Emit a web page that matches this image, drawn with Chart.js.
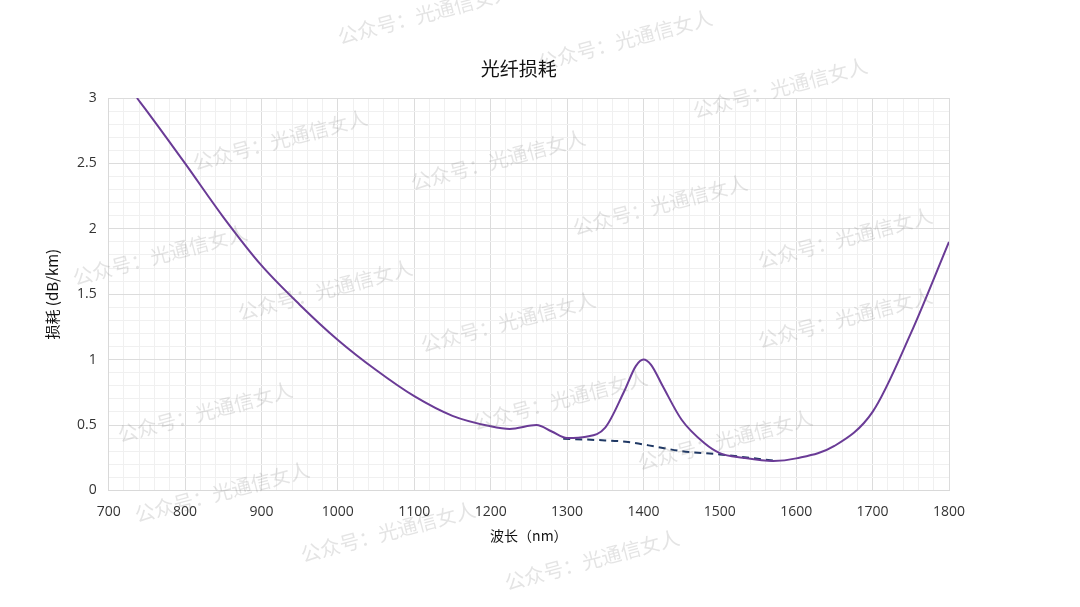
<!DOCTYPE html>
<html>
<head>
<meta charset="utf-8">
<script src="https://cdn.jsdelivr.net/npm/chart.js@4/dist/chart.umd.min.js"></script>
<style>
  html, body { margin: 0; padding: 0; background: #fff; }
  #wrap { width: 1080px; height: 607px; }
</style>
</head>
<body>
<div id="wrap"><canvas id="lossChart" width="1080" height="607"></canvas></div>
<script>
// 光纤损耗曲线
const lossWavelengths = [737, 750, 800, 850, 900, 950, 1000, 1050, 1100, 1150, 1200, 1225, 1260, 1280, 1300, 1325, 1350, 1375, 1390, 1400, 1410, 1425, 1450, 1480, 1500, 1530, 1570, 1600, 1650, 1700, 1750, 1800];
const lossValues = [3.0, 2.9, 2.5, 2.09, 1.72, 1.42, 1.15, 0.92, 0.72, 0.57, 0.49, 0.47, 0.50, 0.45, 0.40, 0.41, 0.48, 0.76, 0.95, 1.0, 0.96, 0.80, 0.54, 0.36, 0.285, 0.25, 0.225, 0.245, 0.34, 0.6, 1.2, 1.9];
// 去除水峰后的虚线
const dryWavelengths = [1295, 1340, 1380, 1420, 1450, 1500, 1545, 1570];
const dryValues = [0.395, 0.385, 0.37, 0.33, 0.30, 0.275, 0.245, 0.228];

const xTicks = [700, 800, 900, 1000, 1100, 1200, 1300, 1400, 1500, 1600, 1700, 1800];
const yTicks = [0, 0.5, 1, 1.5, 2, 2.5, 3];
const chartTitle = '光纤损耗';

// 水印位置
const watermarks = [
  [425, 14], [625, 40], [780, 88], [280, 140], [498, 160], [660, 205], [845, 238],
  [160, 255], [325, 290], [508, 322], [845, 318], [205, 412], [560, 400], [725, 440],
  [222, 492], [388, 532], [592, 560]
];

function toPoints(xs, ys) {
  return xs.map(function (x, i) { return { x: x, y: ys[i] }; });
}

// 标题 (居中于绘图区) 与水印
const titlePlugin = {
  id: 'centerTitle',
  afterDraw: function (chart) {
    const ctx = chart.ctx;
    const area = chart.chartArea;
    ctx.save();
    ctx.font = '19px "Noto Sans CJK SC"';
    ctx.fillStyle = '#111';
    ctx.textAlign = 'center';
    ctx.textBaseline = 'middle';
    ctx.fillText(chartTitle, (area.left + area.right) / 2 - 10, area.top - 29);
    ctx.restore();
  }
};

const watermarkPlugin = {
  id: 'watermark',
  afterDraw: function (chart) {
    const ctx = chart.ctx;
    ctx.save();
    ctx.font = '20px "Noto Sans CJK SC"';
    ctx.fillStyle = 'rgba(120,120,120,0.2)';
    ctx.textAlign = 'center';
    ctx.textBaseline = 'middle';
    watermarks.forEach(function (p) {
      ctx.save();
      ctx.translate(p[0], p[1]);
      ctx.rotate(-0.26);
      ctx.fillText('公众号：光通信女人', 0, 0);
      ctx.restore();
    });
    ctx.restore();
  }
};

const labelFont = { family: '"Open Sans", "Noto Sans CJK SC"', size: 14 };

const lossChart = new Chart(document.getElementById('lossChart').getContext('2d'), {
  type: 'line',
  data: {
    datasets: [{
      label: '损耗',
      data: toPoints(lossWavelengths, lossValues),
      borderColor: '#6a3b96',
      borderWidth: 2,
      pointRadius: 0,
      fill: false,
      cubicInterpolationMode: 'monotone'
    }, {
      label: '低水峰',
      data: toPoints(dryWavelengths, dryValues),
      borderColor: '#1f3864',
      borderWidth: 2,
      borderDash: [7, 5],
      pointRadius: 0,
      fill: false,
      cubicInterpolationMode: 'monotone'
    }]
  },
  options: {
    responsive: false,
    animation: false,
    layout: { padding: { left: 39, right: 131, top: 98, bottom: 59 } },
    plugins: {
      legend: { display: false },
      tooltip: { enabled: false },
      title: { display: false }
    },
    scales: {
      x: {
        type: 'linear',
        min: 700,
        max: 1800,
        ticks: {
          stepSize: 20,
          autoSkip: false,
          maxRotation: 0,
          color: '#333',
          font: labelFont,
          padding: 13,
          callback: function (v) { return xTicks.indexOf(v) >= 0 ? v : ''; }
        },
        grid: {
          drawTicks: false,
          color: function (c) { return xTicks.indexOf(c.tick.value) >= 0 ? '#dcdcdc' : '#f0f0f0'; }
        },
        border: { color: '#d9d9d9' },
        title: {
          display: true,
          text: '波长（nm）',
          color: '#111',
          font: { family: '"Noto Sans CJK SC"', size: 14 },
          padding: { top: -6 }
        }
      },
      y: {
        min: 0,
        max: 3,
        ticks: {
          stepSize: 0.1,
          autoSkip: false,
          color: '#333',
          font: labelFont,
          padding: 12,
          callback: function (v) {
            const r = Math.round(v * 10) / 10;
            return yTicks.indexOf(r) >= 0 ? r : '';
          }
        },
        grid: {
          drawTicks: false,
          color: function (c) {
            const r = Math.round(c.tick.value * 10) / 10;
            return yTicks.indexOf(r) >= 0 ? '#dcdcdc' : '#f0f0f0';
          }
        },
        border: { color: '#d9d9d9' },
        title: {
          display: true,
          text: '损耗 (dB/km)',
          color: '#111',
          font: { family: '"Noto Sans CJK SC"', size: 15 },
          padding: { bottom: 4 }
        }
      }
    }
  },
  plugins: [titlePlugin, watermarkPlugin]
});
</script>
</body>
</html>
